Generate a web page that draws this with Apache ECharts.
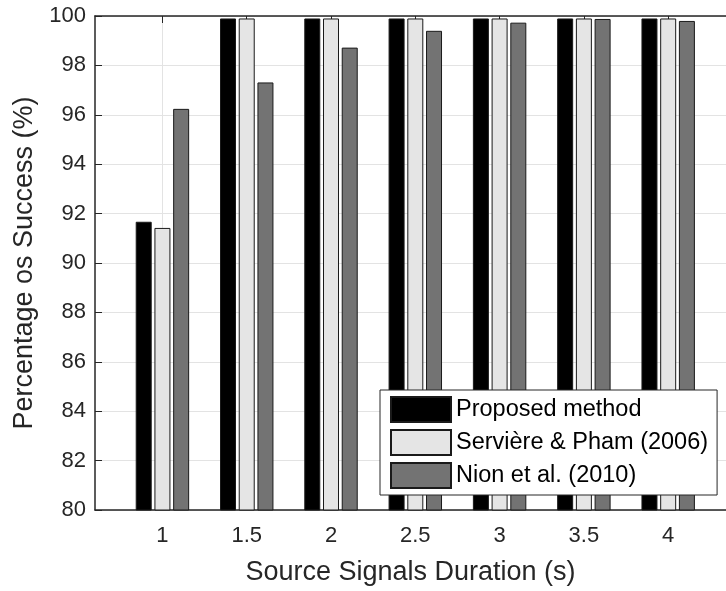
<!DOCTYPE html>
<html>
<head>
<meta charset="utf-8">
<script src="https://cdn.jsdelivr.net/npm/echarts@6/dist/echarts.min.js"></script>
<style>
html,body{margin:0;padding:0;background:#fff;}
#chart{width:726px;height:591px;}
</style>
</head>
<body>
<div id="chart"></div>
<script>
var durations = [1, 1.5, 2, 2.5, 3, 3.5, 4];
var proposed = [91.67, 99.9, 99.9, 99.9, 99.9, 99.9, 99.9];
var serviere = [91.42, 99.9, 99.9, 99.9, 99.9, 99.9, 99.9];
var nion = [96.24, 97.31, 98.72, 99.4, 99.73, 99.88, 99.8];
var seriesNames = ['Proposed method', 'Servière & Pham (2006)', 'Nion et al. (2010)'];

function pairs(vals) {
  return durations.map(function (d, i) { return [d, vals[i]]; });
}

var FONT = '"Liberation Sans", Arial, Helvetica, sans-serif';
var TXT = '#262626';
var chart = echarts.init(document.getElementById('chart'), null, {renderer: 'canvas'});

function barSeries(name, vals, color) {
  return {
    name: name,
    type: 'bar',
    data: pairs(vals),
    barWidth: 16,
    barGap: '17%',
    itemStyle: {color: color, borderColor: '#1a1a1a', borderWidth: 1},
    emphasis: {disabled: true}
  };
}

chart.setOption({
  animation: false,
  backgroundColor: '#fff',
  textStyle: {fontFamily: FONT},
  grid: {left: 95, top: 16, bottom: 79, right: 0, containLabel: false},
  legend: {
    orient: 'vertical',
    left: 380,
    top: 390,
    itemWidth: 60,
    itemHeight: 25,
    itemGap: 6,
    padding: [6, 9, 6, 10],
    borderColor: '#262626',
    borderWidth: 1,
    backgroundColor: '#fff',
    icon: 'rect',
    selectedMode: false,
    textStyle: {fontSize: 23.5, color: '#000', fontFamily: FONT, lineHeight: 25},
    data: seriesNames
  },
  xAxis: [{
    type: 'value',
    min: 0.6,
    max: 4.343,
    name: 'Source Signals Duration (s)',
    nameLocation: 'middle',
    nameGap: 49,
    nameTextStyle: {fontSize: 27, color: TXT, fontFamily: FONT},
    axisLine: {show: true, lineStyle: {color: TXT, width: 1.5}},
    axisTick: {show: true, inside: true, length: 7, lineStyle: {color: TXT}, customValues: durations},
    axisLabel: {show: true, fontSize: 22, color: TXT, margin: 15, fontFamily: FONT, customValues: durations},
    splitLine: {show: true, lineStyle: {color: '#e3e3e3', width: 1}}
  }, {
    type: 'value',
    position: 'top',
    min: 0.6,
    max: 4.343,
    axisLine: {show: true, lineStyle: {color: TXT, width: 1.5}},
    axisTick: {show: true, inside: true, length: 7, lineStyle: {color: TXT}, customValues: durations},
    axisLabel: {show: false},
    splitLine: {show: false}
  }],
  yAxis: {
    type: 'value',
    min: 80,
    max: 100,
    interval: 2,
    name: 'Percentage os Success (%)',
    nameLocation: 'middle',
    nameGap: 50,
    nameTextStyle: {fontSize: 27, color: TXT, fontFamily: FONT},
    axisLine: {show: true, lineStyle: {color: TXT, width: 1.5}},
    axisTick: {show: true, inside: true, length: 7, lineStyle: {color: TXT}},
    axisLabel: {fontSize: 22, color: TXT, margin: 9, fontFamily: FONT},
    splitLine: {show: true, lineStyle: {color: '#e3e3e3', width: 1}}
  },
  series: [
    barSeries(seriesNames[0], proposed, '#000000'),
    barSeries(seriesNames[1], serviere, '#e5e5e5'),
    barSeries(seriesNames[2], nion, '#737373')
  ]
});
</script>
</body>
</html>
